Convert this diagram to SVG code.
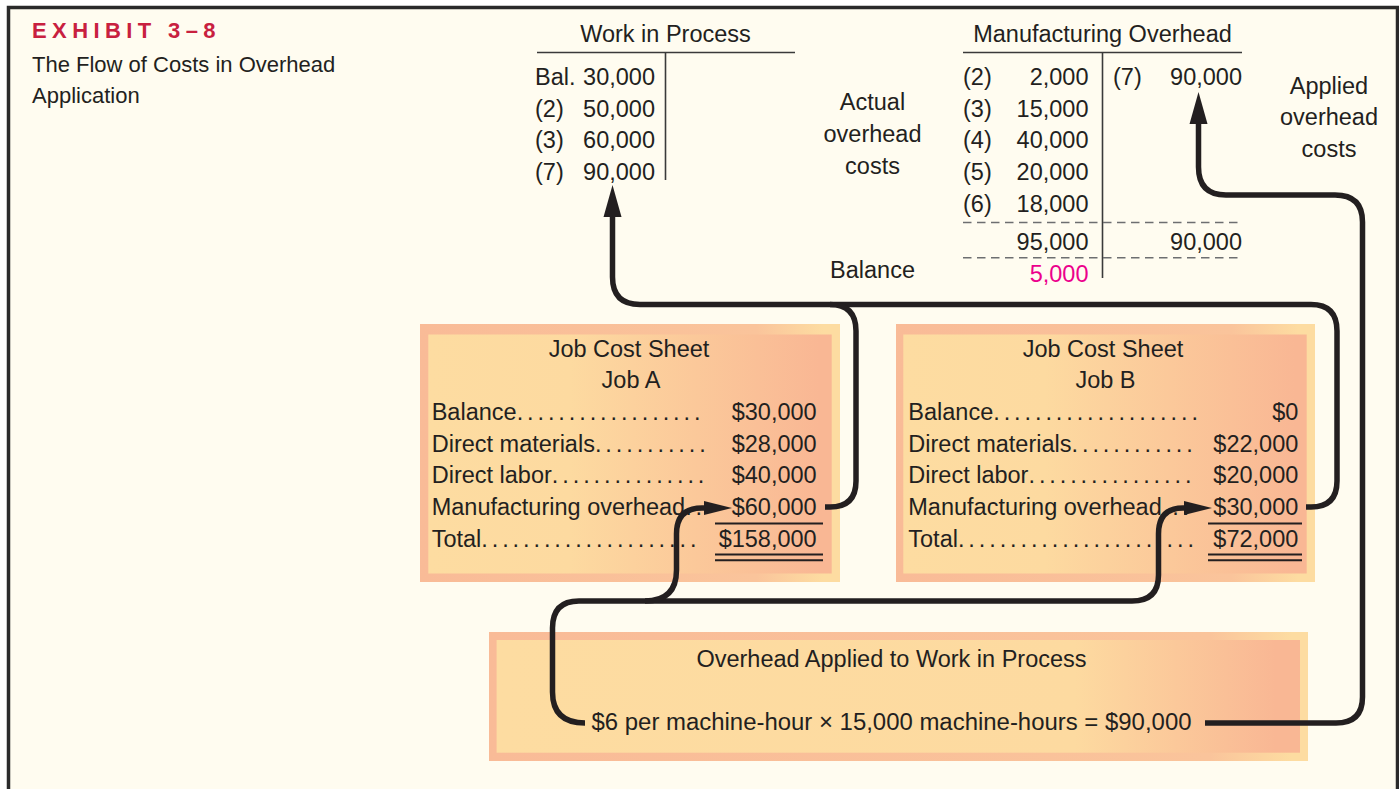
<svg xmlns="http://www.w3.org/2000/svg" width="1399" height="789" viewBox="0 0 1399 789">
<defs>
<style>
text{font-family:"Liberation Sans",Arial,Helvetica,sans-serif;font-size:23.5px;fill:#231F20}
.c{text-anchor:middle}
.e{text-anchor:end}
.ttl{font-size:22px}
.exh{font-size:22px;font-weight:bold;fill:#C8203F;letter-spacing:5.4px}
.tl{stroke:#3a3a3a;stroke-width:1.6;fill:none}
.dash{stroke:#6d6e70;stroke-width:1.5;stroke-dasharray:8.5 5.5;fill:none}
.ul{stroke:#231F20;stroke-width:2;fill:none}
.flow{stroke:#231F20;stroke-width:5.5;fill:none;stroke-linejoin:round}
.dots{letter-spacing:3.9px}
.mag{fill:#EC008C}
</style>
<linearGradient id="gInner" x1="0" y1="0" x2="1" y2="0">
<stop offset="0" stop-color="#FDDCA1"/>
<stop offset="0.35" stop-color="#FDDAA0"/>
<stop offset="0.97" stop-color="#F9B794"/>
<stop offset="1" stop-color="#F9B794"/>
</linearGradient>
<linearGradient id="gOuter" x1="0" y1="0" x2="1" y2="0">
<stop offset="0" stop-color="#F9BB97"/>
<stop offset="0.8" stop-color="#FAC49B"/>
<stop offset="0.96" stop-color="#FDDCA1"/>
<stop offset="1" stop-color="#FDDCA1"/>
</linearGradient>
<linearGradient id="gInnerB" x1="0" y1="0" x2="1" y2="0">
<stop offset="0" stop-color="#FDDCA1"/>
<stop offset="0.72" stop-color="#FDDAA0"/>
<stop offset="0.97" stop-color="#F9B794"/>
<stop offset="1" stop-color="#F9B794"/>
</linearGradient>
<linearGradient id="gOuterB" x1="0" y1="0" x2="1" y2="0">
<stop offset="0" stop-color="#F9BB97"/>
<stop offset="0.88" stop-color="#FAC49B"/>
<stop offset="0.98" stop-color="#FDDCA1"/>
<stop offset="1" stop-color="#FDDCA1"/>
</linearGradient>
<marker id="ahL" markerUnits="userSpaceOnUse" markerWidth="34" markerHeight="20" viewBox="0 0 34 20" refX="3" refY="10" orient="auto">
<path d="M0,1 L32,10 L0,19 z" fill="#231F20"/>
</marker>
<marker id="ahS" markerUnits="userSpaceOnUse" markerWidth="30" markerHeight="16" viewBox="0 0 30 16" refX="3" refY="8" orient="auto">
<path d="M0,1 L28,8 L0,15 z" fill="#231F20"/>
</marker>
</defs>

<rect x="0" y="0" width="1399" height="789" fill="#FFFFFF"/>
<rect id="frame" x="8.5" y="7.5" width="1389" height="800" fill="#FFFCF0" stroke="#2a2a2a" stroke-width="3.5"/>

<g id="title">
<text class="exh" x="32" y="37.5">EXHIBIT 3–8</text>
<text class="ttl" x="32" y="72">The Flow of Costs in Overhead</text>
<text class="ttl" x="32" y="103">Application</text>
</g>

<g id="wip-account">
<text class="c" x="665.5" y="42">Work in Process</text>
<line class="tl" x1="537" y1="52.5" x2="795" y2="52.5"/>
<line class="tl" x1="665.5" y1="52.5" x2="665.5" y2="180"/>
<text x="535" y="85">Bal.</text><text class="e" x="655" y="85">30,000</text>
<text x="535" y="116.7">(2)</text><text class="e" x="655" y="116.7">50,000</text>
<text x="535" y="148.3">(3)</text><text class="e" x="655" y="148.3">60,000</text>
<text x="535" y="180">(7)</text><text class="e" x="655" y="180">90,000</text>
</g>

<g id="actual-label">
<text class="c" x="872.5" y="110">Actual</text>
<text class="c" x="872.5" y="142">overhead</text>
<text class="c" x="872.5" y="174">costs</text>
<text class="c" x="872.5" y="278">Balance</text>
</g>

<g id="moh-account">
<text class="c" x="1102.5" y="42">Manufacturing Overhead</text>
<line class="tl" x1="963" y1="52.5" x2="1242" y2="52.5"/>
<line class="tl" x1="1102.5" y1="52.5" x2="1102.5" y2="278"/>
<text x="963" y="85">(2)</text><text class="e" x="1088.5" y="85">2,000</text>
<text x="963" y="116.7">(3)</text><text class="e" x="1088.5" y="116.7">15,000</text>
<text x="963" y="148.3">(4)</text><text class="e" x="1088.5" y="148.3">40,000</text>
<text x="963" y="180">(5)</text><text class="e" x="1088.5" y="180">20,000</text>
<text x="963" y="211.7">(6)</text><text class="e" x="1088.5" y="211.7">18,000</text>
<text x="1113" y="85">(7)</text><text class="e" x="1242" y="85">90,000</text>
<line class="dash" x1="963" y1="222.5" x2="1242" y2="222.5"/>
<text class="e" x="1088.5" y="250">95,000</text>
<text class="e" x="1242" y="250">90,000</text>
<line class="dash" x1="963" y1="257.7" x2="1242" y2="257.7"/>
<text class="e mag" x="1088.5" y="281.5">5,000</text>
</g>

<g id="applied-label">
<text class="c" x="1329" y="93.5">Applied</text>
<text class="c" x="1329" y="125">overhead</text>
<text class="c" x="1329" y="157">costs</text>
</g>

<g id="job-a">
<rect x="420" y="324" width="420" height="258" fill="url(#gOuter)"/>
<rect x="428.3" y="334.5" width="403.4" height="239" fill="url(#gInner)"/>
<text class="c" x="629" y="357">Job Cost Sheet</text>
<text class="c" x="631" y="388.3">Job A</text>
<text x="431.7" y="420">Balance<tspan class="dots">..................</tspan></text>
<text class="e" x="816.7" y="420">$30,000</text>
<text x="431.7" y="451.7">Direct materials<tspan class="dots">...........</tspan></text>
<text class="e" x="816.7" y="451.7">$28,000</text>
<text x="431.7" y="483.3">Direct labor<tspan class="dots">...............</tspan></text>
<text class="e" x="816.7" y="483.3">$40,000</text>
<text x="431.7" y="515">Manufacturing overhead<tspan class="dots">..</tspan></text>
<text class="e" x="816.7" y="515">$60,000</text>
<text x="431.7" y="546.7">Total<tspan class="dots">.....................</tspan></text>
<text class="e" x="816.7" y="546.7">$158,000</text>
<line class="ul" x1="715" y1="523.5" x2="823" y2="523.5"/>
<line class="ul" x1="715" y1="554.5" x2="823" y2="554.5"/>
<line class="ul" x1="715" y1="560.3" x2="823" y2="560.3"/>
</g>

<g id="job-b">
<rect x="896" y="324" width="419" height="258" fill="url(#gOuter)"/>
<rect x="903.3" y="334.5" width="403.4" height="239" fill="url(#gInner)"/>
<text class="c" x="1103" y="357">Job Cost Sheet</text>
<text class="c" x="1105.5" y="388.3">Job B</text>
<text x="908.3" y="420">Balance<tspan class="dots">....................</tspan></text>
<text class="e" x="1298.3" y="420">$0</text>
<text x="908.3" y="451.7">Direct materials<tspan class="dots">............</tspan></text>
<text class="e" x="1298.3" y="451.7">$22,000</text>
<text x="908.3" y="483.3">Direct labor<tspan class="dots">................</tspan></text>
<text class="e" x="1298.3" y="483.3">$20,000</text>
<text x="908.3" y="515">Manufacturing overhead<tspan class="dots">...</tspan></text>
<text class="e" x="1298.3" y="515">$30,000</text>
<text x="908.3" y="546.7">Total<tspan class="dots">.......................</tspan></text>
<text class="e" x="1298.3" y="546.7">$72,000</text>
<line class="ul" x1="1208" y1="523.5" x2="1302" y2="523.5"/>
<line class="ul" x1="1208" y1="554.5" x2="1302" y2="554.5"/>
<line class="ul" x1="1208" y1="560.3" x2="1302" y2="560.3"/>
</g>

<g id="overhead-applied">
<rect x="489" y="632" width="819" height="129" fill="url(#gOuterB)"/>
<rect x="496.6" y="640" width="803.4" height="112.7" fill="url(#gInnerB)"/>
<text class="c" x="891.5" y="667">Overhead Applied to Work in Process</text>
<text class="c" x="891.5" y="730" textLength="600" lengthAdjust="spacingAndGlyphs">$6 per machine-hour × 15,000 machine-hours = $90,000</text>
</g>

<g id="connectors">
<path class="flow" d="M 1306 507 L 1311 507 Q 1337 507 1337 481 L 1337 331 Q 1337 304.5 1311 304.5 L 830 304.5"/>
<path class="flow" marker-end="url(#ahL)" d="M 825 507 L 830 507 Q 856 507 856 481 L 856 331 Q 856 304.5 830 304.5 L 640 304.5 Q 612.5 304.5 612.5 277 L 612.5 214"/>
<path class="flow" marker-end="url(#ahL)" d="M 1205 723 L 1336 723 Q 1362.5 723 1362.5 697 L 1362.5 222 Q 1362.5 195 1335 195 L 1226 195 Q 1198.5 195 1198.5 167 L 1198.5 121"/>
<path class="flow" marker-end="url(#ahS)" d="M 585 723 Q 552.5 723 552.5 692 L 552.5 628 Q 552.5 601 579 601 L 1132 601 Q 1158.5 601 1158.5 575 L 1158.5 534 Q 1158.5 508 1183 508 L 1187 508"/>
<path class="flow" marker-end="url(#ahS)" d="M 645 601 Q 676.5 601 676.5 570 L 676.5 534 Q 676.5 508 702 508 L 707 508"/>
</g>
</svg>
